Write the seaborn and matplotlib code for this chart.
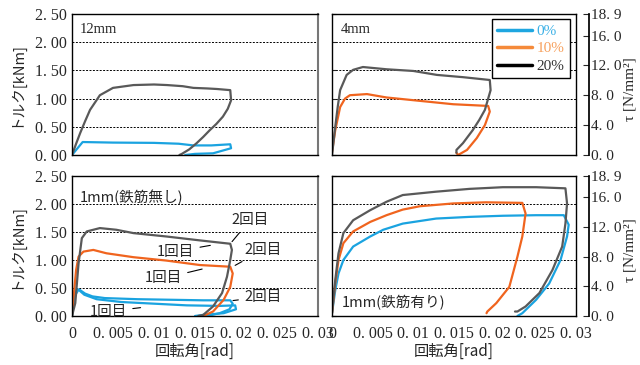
import matplotlib
matplotlib.use('Agg')
import matplotlib.pyplot as plt
import seaborn as sns
from matplotlib.lines import Line2D

# --- data (rotation [rad], torque [kNm]) ---
# 12mm
tl_x20 = [0, 0.0005, 0.0010, 0.0016, 0.0022, 0.0034, 0.0050, 0.0075, 0.0100, 0.0116, 0.0135, 0.0148,
          0.0165, 0.0177, 0.0193, 0.0194, 0.0190, 0.0184, 0.0176, 0.0168, 0.0160, 0.0152, 0.0143, 0.0134, 0.0131]
tl_y20 = [0, 0.20, 0.39, 0.60, 0.80, 1.06, 1.19, 1.24, 1.25, 1.24, 1.22, 1.19,
          1.18, 1.17, 1.15, 0.97, 0.82, 0.68, 0.55, 0.44, 0.32, 0.21, 0.10, 0.02, 0.0]
tl_x0 = [0, 0.0013, 0.0050, 0.0100, 0.0130, 0.0148, 0.0170, 0.0193, 0.0194, 0.0172, 0.0150, 0.0138]
tl_y0 = [0, 0.23, 0.22, 0.215, 0.20, 0.17, 0.17, 0.19, 0.12, 0.03, 0.02, 0.0]

# 4mm
tr_x20 = [0, 0.0002, 0.0004, 0.0007, 0.0010, 0.0018, 0.0026, 0.0038, 0.0067, 0.0100, 0.0129, 0.0161,
          0.0194, 0.0195, 0.0188, 0.0181, 0.0173, 0.0161, 0.0153, 0.0153]
tr_y20 = [0, 0.25, 0.50, 0.85, 1.15, 1.42, 1.51, 1.56, 1.52, 1.49, 1.42, 1.38,
          1.33, 1.15, 0.80, 0.62, 0.44, 0.21, 0.09, 0.04]
tr_x10 = [0, 0.0004, 0.0010, 0.0016, 0.0022, 0.0043, 0.0067, 0.0108, 0.0149, 0.0192, 0.0194, 0.0188,
          0.0178, 0.0166, 0.0155, 0.0153]
tr_y10 = [0.05, 0.44, 0.85, 1.00, 1.06, 1.08, 1.02, 0.96, 0.90, 0.87, 0.77, 0.53,
          0.30, 0.09, 0.0, 0.04]

# 1mm (no rebar)
bl_x20 = [0, 0.0004, 0.0008, 0.0012, 0.0018, 0.0034, 0.0054, 0.0075, 0.0115, 0.0156, 0.0193, 0.0195,
          0.0193, 0.0189, 0.0183, 0.0172, 0.0160, 0.0154]
bl_y20 = [0, 0.23, 0.94, 1.39, 1.51, 1.57, 1.54, 1.48, 1.42, 1.35, 1.29, 1.18,
          1.00, 0.70, 0.41, 0.17, 0.02, 0.0]
bl_x10 = [0, 0.0002, 0.0005, 0.0008, 0.0014, 0.0026, 0.0042, 0.0075, 0.0115, 0.0156, 0.0193, 0.0196,
          0.0193, 0.0185, 0.0172, 0.0160]
bl_y10 = [0, 0.34, 0.82, 1.06, 1.15, 1.18, 1.12, 1.05, 0.99, 0.91, 0.88, 0.76,
          0.52, 0.29, 0.08, 0.0]
bl_x0a = [0, 0.0002, 0.0006, 0.0010, 0.0016, 0.0025, 0.0040, 0.0080, 0.0120, 0.0160, 0.0193, 0.0196,
          0.0192, 0.0180, 0.0165]
bl_y0a = [0, 0.30, 0.48, 0.46, 0.40, 0.35, 0.32, 0.30, 0.29, 0.28, 0.28, 0.22, 0.12, 0.05, 0.0]
bl_x0b = [0, 0.0003, 0.0008, 0.0015, 0.0030, 0.0060, 0.0100, 0.0140, 0.0180, 0.0199, 0.0200, 0.0185,
          0.0160, 0.0150]
bl_y0b = [0, 0.35, 0.47, 0.38, 0.30, 0.25, 0.22, 0.19, 0.18, 0.19, 0.12, 0.05, 0.02, 0.0]

# 1mm (with rebar)
br_x20 = [0, 0.0004, 0.0008, 0.0014, 0.0026, 0.0047, 0.0067, 0.0087, 0.0128, 0.0169, 0.0210, 0.0251,
          0.0287, 0.0289, 0.0287, 0.0283, 0.0271, 0.0255, 0.0238, 0.0228, 0.0225]
br_y20 = [0.05, 0.64, 1.12, 1.48, 1.71, 1.89, 2.04, 2.16, 2.22, 2.27, 2.30, 2.30,
          2.28, 2.01, 1.65, 1.24, 0.82, 0.41, 0.17, 0.08, 0.08]
br_x10 = [0, 0.0004, 0.0008, 0.0014, 0.0026, 0.0047, 0.0067, 0.0087, 0.0108, 0.0149, 0.0189, 0.0234,
          0.0238, 0.0234, 0.0228, 0.0218, 0.0202, 0.0191, 0.0190]
br_y10 = [0.05, 0.58, 1.00, 1.30, 1.51, 1.68, 1.80, 1.90, 1.96, 2.01, 2.03, 2.02,
          1.83, 1.42, 1.06, 0.52, 0.23, 0.08, 0.05]
br_x0 = [0, 0.0004, 0.0008, 0.0014, 0.0026, 0.0047, 0.0063, 0.0087, 0.0128, 0.0169, 0.0210, 0.0251,
         0.0285, 0.0291, 0.0289, 0.0281, 0.0267, 0.0251, 0.0234, 0.0228]
br_y0 = [0.05, 0.46, 0.76, 1.00, 1.24, 1.42, 1.54, 1.65, 1.74, 1.77, 1.79, 1.80,
         1.80, 1.63, 1.42, 1.00, 0.58, 0.29, 0.05, 0.0]

x_ticks = [0, 0.005, 0.01, 0.015, 0.02, 0.025, 0.03]
x_labels = ['0', '0. 005', '0. 01', '0. 015', '0. 02', '0. 025', '0. 03']
y_ticks = [0, 0.5, 1.0, 1.5, 2.0, 2.5]
y_labels = ['0. 00', '0. 50', '1. 00', '1. 50', '2. 00', '2. 50']
tau_ticks = [0, 4, 8, 12, 16, 18.9]
tau_labels = ['0. 0', '4. 0', '8. 0', '12. 0', '16. 0', '18. 9']
series_names = ['0%', '10%', '20%']

BLUE = '#1AA3E0'
ORANGE = '#F0641E'
GRAY = '#595959'

sns.set_theme(style='white')
plt.rcParams['font.family'] = ['Liberation Serif', 'Noto Sans CJK JP']
CJK = ['Noto Sans CJK JP', 'DejaVu Sans']

fig = plt.figure(figsize=(6.4, 3.65), dpi=100)
W, H = 640, 365


def box(x0, y0, x1, y1):
    return [x0 / W, (H - y1) / H, (x1 - x0) / W, (y1 - y0) / H]


ax_tl = fig.add_axes(box(72, 14, 318, 155))
ax_tr = fig.add_axes(box(332, 14, 576, 155))
ax_bl = fig.add_axes(box(72, 176, 318, 316))
ax_br = fig.add_axes(box(332, 176, 576, 316))


def draw(ax, x, y, color):
    sns.lineplot(x=x, y=y, sort=False, estimator=None, ax=ax, color=color, lw=1.6)


draw(ax_tl, tl_x0, tl_y0, BLUE)
draw(ax_tl, tl_x20, tl_y20, GRAY)
draw(ax_tr, tr_x10, tr_y10, ORANGE)
draw(ax_tr, tr_x20, tr_y20, GRAY)
draw(ax_bl, bl_x0b, bl_y0b, BLUE)
draw(ax_bl, bl_x0a, bl_y0a, BLUE)
draw(ax_bl, bl_x10, bl_y10, ORANGE)
draw(ax_bl, bl_x20, bl_y20, GRAY)
draw(ax_br, br_x0, br_y0, BLUE)
draw(ax_br, br_x10, br_y10, ORANGE)
draw(ax_br, br_x20, br_y20, GRAY)

for ax in [ax_tl, ax_tr, ax_bl, ax_br]:
    ax.set_xlim(0, 0.03)
    ax.set_ylim(0, 2.5)
    ax.set_yticks(y_ticks)
    ax.set_xticks(x_ticks)
    ax.yaxis.grid(True, ls=(0, (2, 1.5)), color='black', lw=0.7)
    ax.set_axisbelow(True)
    for s in ax.spines.values():
        s.set_color('black')
        s.set_linewidth(1.0)
    ax.set_xlabel('')
    ax.set_ylabel('')

# left column: torque axis
for ax in [ax_tl, ax_bl]:
    ax.set_yticklabels(y_labels, fontsize=11.5)
    ax.tick_params(axis='y', direction='out', length=3, width=0.8, pad=1)
    ax.spines['right'].set_color('#777777')
    ax.spines['right'].set_linewidth(1.5)
    ax.set_ylabel('トルク[kNm]', fontsize=10.5, family=CJK)
    ax.yaxis.set_label_coords(-0.198, 0.5)

# right column: no left labels, tau axis on the right
for ax in [ax_tr, ax_br]:
    ax.set_yticklabels([])
    ax.tick_params(axis='y', direction='in', length=3, width=0.8)
    ax2 = ax.twinx()
    ax2.set_ylim(0, 18.9)
    ax2.set_yticks(tau_ticks)
    ax2.set_yticklabels(tau_labels, fontsize=11.5)
    for name in ['top', 'left', 'bottom']:
        ax2.spines[name].set_visible(False)
    ax2.spines['right'].set_position(('outward', 9))
    ax2.spines['right'].set_color('black')
    ax2.tick_params(axis='y', direction='in', length=4, width=0.8, pad=2, right=True)
    ax2.set_ylabel('τ [N/mm²]', fontsize=11, rotation=90)
    ax2.yaxis.set_label_coords(1.195, 0.47)

# x ticks: labels only on the bottom row
for ax in [ax_tl, ax_tr]:
    ax.set_xticklabels([])
    ax.tick_params(axis='x', length=0)
for ax in [ax_bl, ax_br]:
    ax.set_xticklabels(x_labels, fontsize=11.5)
    ax.tick_params(axis='x', length=0, pad=7)
    ax.set_xlabel('回転角[rad]', fontsize=11, family=CJK, labelpad=1)

# panel titles
ax_tl.text(0.033, 0.89, '12mm', transform=ax_tl.transAxes, fontsize=10.5, va='center')
ax_tr.text(0.035, 0.89, '4mm', transform=ax_tr.transAxes, fontsize=10.5, va='center')
ax_bl.text(0.033, 0.85, '1mm(鉄筋無し)', transform=ax_bl.transAxes, fontsize=10.5,
           va='center', family=CJK)
ax_br.text(0.04, 0.093, '1mm(鉄筋有り)', transform=ax_br.transAxes, fontsize=10.5,
           va='center', family=CJK)

# 1st / 2nd loading notes
notes = [
    ('2回目', (0.0193, 1.29), (0.0217, 1.71)),
    ('1回目', (0.0172, 1.27), (0.0126, 1.15)),
    ('2回目', (0.0196, 0.88), (0.0233, 1.18)),
    ('1回目', (0.0162, 0.85), (0.0111, 0.67)),
    ('2回目', (0.0193, 0.27), (0.0233, 0.34)),
    ('1回目', (0.0087, 0.155), (0.0044, 0.08)),
]
for txt, xy, xytext in notes:
    ax_bl.annotate(txt, xy=xy, xytext=xytext, ha='center', va='center', fontsize=10.5,
                   family=CJK, arrowprops=dict(arrowstyle='-', color='black', lw=0.8))

# legend
handles = [Line2D([], [], color=c, lw=2.5) for c in ['#1EA6E0', '#F58A3A', 'black']]
leg = ax_tr.legend(handles, series_names, loc='upper right', bbox_to_anchor=(0.975, 0.965),
                   borderaxespad=0, fontsize=11, handlelength=2.3, handletextpad=0.3,
                   labelspacing=0.25, frameon=True, fancybox=False, framealpha=1,
                   labelcolor=['#3AB0E6', '#F7A15E', '#333333'], borderpad=0.35)
leg.get_frame().set_edgecolor('black')
leg.get_frame().set_linewidth(1.0)

fig.savefig('out.png', dpi=100)
